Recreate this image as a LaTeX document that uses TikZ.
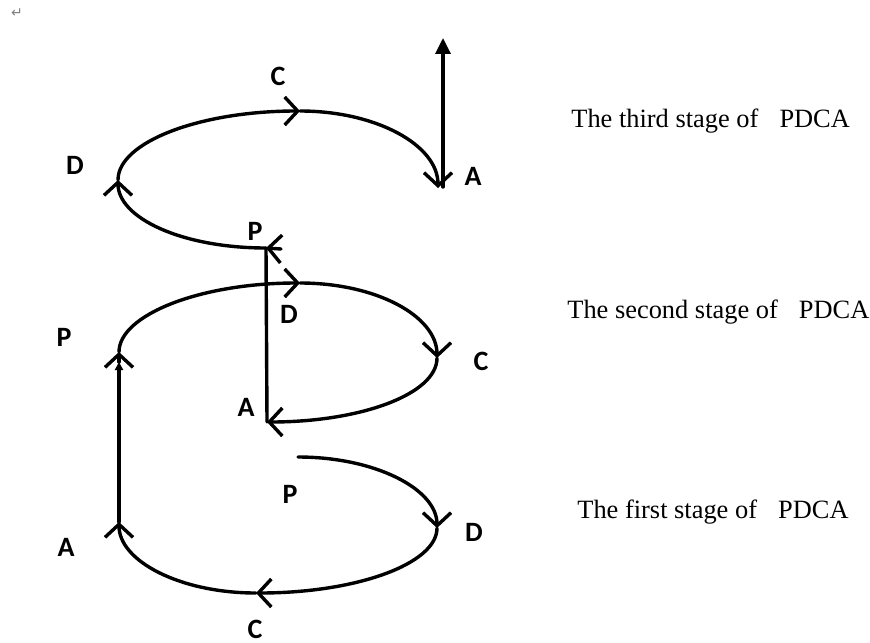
\documentclass[tikz,border=0pt]{standalone}
\usepackage{fontspec}
\setmainfont{Liberation Serif}
\newfontfamily\lblfont{Carlito}
\newfontfamily\symfont{DejaVu Sans}
\usetikzlibrary{arrows.meta}
\begin{document}
\begin{tikzpicture}[x=0.5pt,y=-0.5pt,
  loopline/.style={line width=1.7pt, line cap=round},
  barb/.style={-{Straight Barb[length=6.5pt,width=14pt]}},
  lbl/.style={inner sep=0pt, font=\lblfont\bfseries\fontsize{14}{14}\selectfont},
  stage/.style={inner sep=0pt, anchor=base west, font=\fontsize{13.2}{15}\selectfont}]
\useasboundingbox (0,0) rectangle (870,642);

% top loop (third stage)
\coordinate (p3) at (266,248);
\coordinate (p3r) at (281,249);
\coordinate (d3) at (118,180);
\coordinate (c3) at (300,111);
\coordinate (a3) at (438,188);
\coordinate (a3v) at (443,187);
\coordinate (top) at (443,38);
% middle loop (second stage)
\coordinate (p2) at (119,352);
\coordinate (p2in) at (119,362);
\coordinate (d2) at (300,283);
\coordinate (c2) at (437,358);
\coordinate (a2) at (267,422);
% bottom loop (first stage)
\coordinate (p1) at (298,457);
\coordinate (d1) at (437,528);
\coordinate (c1) at (256,593);
\coordinate (a1) at (119,522);

% first stage
\draw[loopline,barb] (p1) .. controls (375,457) and (437,489) .. (d1);
\draw[loopline,barb] (d1) .. controls (437,564) and (356,593) .. (c1);
\draw[loopline,barb] (c1) .. controls (180,593) and (119,561) .. (a1);
\draw[loopline,-{Triangle[length=4pt,width=4pt]}] (a1) -- (p2in);
% second stage
\draw[loopline,barb] (p2in) -- (p2);
\draw[loopline,barb] (p2) .. controls (119,315) and (200,283) .. (d2);
\draw[loopline,barb] (d2) .. controls (376,283) and (437,316) .. (c2);
\draw[loopline,barb] (c2) .. controls (437,394) and (361,422) .. (a2);
\draw[loopline] (a2) -- (p3);
\draw[loopline,barb] (p3r) -- (p3);
% third stage
\draw[loopline,barb] (p3) .. controls (182,248) and (118,218) .. (d3);
\draw[loopline,barb] (d3) .. controls (118,142) and (200,111) .. (c3);
\draw[loopline,barb] (c3) .. controls (376,111) and (438,145) .. (a3);
\draw[loopline,-{Triangle[length=8pt,width=7.5pt]}] (a3v) -- (top);

% letters
\node[lbl] (lC3) at (278,76) {C};
\node[lbl] (lD3) at (75,165) {D};
\node[lbl] (lA3) at (473,176) {A};
\node[lbl] (lP3) at (255,231) {P};
\node[lbl] (lP2) at (64,337) {P};
\node[lbl] (lD2) at (289,314) {D};
\node[lbl] (lC2) at (481,361) {C};
\node[lbl] (lA2) at (246,407) {A};
\node[lbl] (lP1) at (290,494) {P};
\node[lbl] (lD1) at (474,532) {D};
\node[lbl] (lA1) at (66,547) {A};
\node[lbl] (lC1) at (255,629) {C};

% stage captions
\node[stage] (s3) at (571,127) {The third stage of\hspace{0.8em}PDCA};
\node[stage] (s2) at (567,318) {The second stage of\hspace{0.8em}PDCA};
\node[stage] (s1) at (577,518) {The first stage of\hspace{0.8em}PDCA};

% return mark
\node[inner sep=0pt, text=gray, font=\symfont\fontsize{7}{7}\selectfont] (ret) at (17,13) {↵};
\end{tikzpicture}
\end{document}
